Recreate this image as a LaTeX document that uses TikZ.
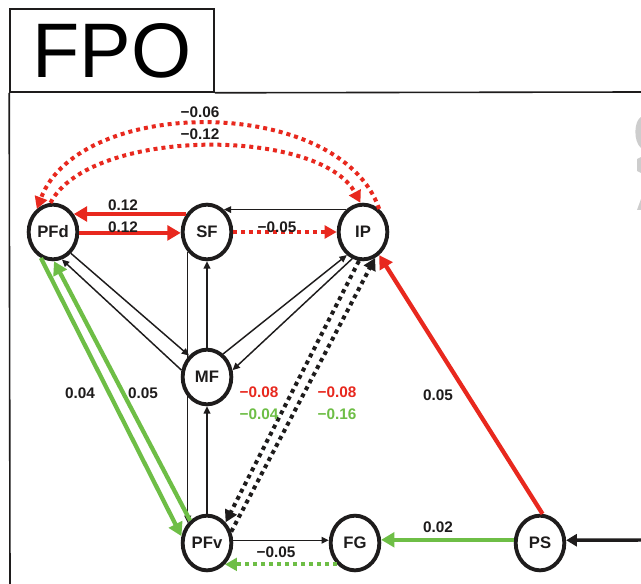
\documentclass[tikz,border=0pt]{standalone}
\usepackage{fontspec}
\setmainfont{Liberation Sans}
\usetikzlibrary{arrows.meta,shapes.geometric}
\definecolor{figred}{RGB}{232,40,30}
\definecolor{figgreen}{RGB}{110,190,70}
\definecolor{figgray}{RGB}{205,205,205}
\definecolor{ink}{RGB}{30,28,28}
\pgfdeclarelayer{back}
\pgfsetlayers{back,main}
\tikzset{
  region/.style={ellipse, draw=ink, line width=2.9pt, fill=white,
    minimum width=36.5pt, minimum height=41pt, inner sep=0pt,
    font=\fontsize{12.5}{14}\selectfont\bfseries, text=ink},
  lbl/.style={font=\fontsize{11.5}{13}\selectfont\bfseries, text=ink, inner sep=0pt},
  redlbl/.style={lbl, text=figred},
  greenlbl/.style={lbl, text=figgreen},
  weak/.style={draw=ink, line width=1.1pt, -{Triangle[length=5.5pt,width=5pt]}},
  redarrow/.style={draw=figred, line width=3.2pt, -{Triangle[length=10pt,width=11pt]}},
  greenarrow/.style={draw=figgreen, line width=3.2pt, -{Triangle[length=10pt,width=11pt]}},
  reddots/.style={draw=figred, line width=3pt, dash pattern=on 3pt off 3pt, -{Triangle[length=9pt,width=9.5pt]}},
  greendots/.style={draw=figgreen, line width=3pt, dash pattern=on 3pt off 3pt, -{Triangle[length=9pt,width=9.5pt]}},
  blackdots/.style={draw=ink, line width=3pt, dash pattern=on 3pt off 3pt, -{Triangle[length=9pt,width=9.5pt]}},
  blackarrow/.style={draw=ink, line width=2.6pt, -{Triangle[length=8pt,width=9pt]}},
  frame/.style={draw=ink, line width=1.2pt}
}
\begin{document}
\begin{tikzpicture}[x=0.75pt,y=-0.75pt]
\useasboundingbox (0,0) rectangle (641,584);
\begin{pgfonlayer}{back}
\fill[white] (0,0) rectangle (641,584);
\end{pgfonlayer}

% frame and FPO box
\node[frame, rectangle, minimum width=153pt, minimum height=62.25pt, inner sep=0pt,
  font=\fontsize{58}{60}\selectfont] (fpo) at (112,50.5) {FPO};
\coordinate (topR) at (641,92);
\coordinate (botL) at (10,584);
\draw[frame] (fpo.south east) -- (topR);
\draw[frame] (fpo.south west) -- (botL);

% gray fragment at the right edge
\fill[figgray] (641,117) .. controls (634,121) and (633,141) .. (641,148) -- cycle;
\fill[figgray] (637,159) -- (641,157) -- (641,173) -- (637,171) -- cycle;
\fill[figgray] (637,210) -- (641,199) -- (641,210) -- cycle;

% nodes
\node[region] (PFd) at (53,232) {PFd};
\node[region] (SF)  at (207,232) {SF};
\node[region] (IP)  at (363,232) {IP};
\node[region] (MF)  at (207,377) {MF};
\node[region] (PFv) at (207,543) {PFv};
\node[region] (FG)  at (355,543) {FG};
\node[region] (PS)  at (540,543) {PS};

% line behind MF
\begin{pgfonlayer}{back}
\draw[weak] (SF.-134) -- (PFv.134);
\end{pgfonlayer}

% top arcs
\draw[reddots] (IP.55) .. controls (340,95) and (80,95) .. (PFd.125);
\draw[reddots] (PFd.95) .. controls (90,127) and (320,127) .. (IP.95);
\node[lbl] (l06) at (200,112) {−0.06};
\node[lbl] (l12a) at (200,134) {−0.12};

% PFd - SF - IP row
\draw[redarrow] (SF.139) -- (PFd.41);
\draw[redarrow] (PFd.-2) -- (SF.182);
\draw[reddots] (SF.east) -- (IP.west);
\draw[weak] (IP.127) -- (SF.53);
\node[lbl] (l12b) at (123,205) {0.12};
\node[lbl] (l12c) at (123,227) {0.12};
\node[lbl] (l05a) at (277,227) {−0.05};

% PFd - MF
\draw[weak] (PFd.-50) -- (MF.130);
\draw[weak] (MF.165) -- (PFd.-72);

% SF - MF - PFv
\draw[weak] (MF.north) -- (SF.south);
\draw[weak] (PFv.north) -- (MF.south);

% MF - IP
\draw[weak] (MF.55) -- (IP.-125);
\draw[weak] (IP.-112) -- (MF.15);

% IP - PFv dotted
\draw[blackdots] (IP.-98) -- (PFv.48);
\draw[blackdots] (PFv.25) -- (IP.-65);
\node[redlbl] (l08a) at (259,392) {−0.08};
\node[greenlbl] (l04a) at (259,414) {−0.04};
\node[redlbl] (l08b) at (337,392) {−0.08};
\node[greenlbl] (l16) at (337,414) {−0.16};

% PFd - PFv green
\draw[greenarrow] (PFd.-115) -- (PFv.165);
\draw[greenarrow] (PFv.127) -- (PFd.-88);
\node[lbl] (l04) at (80,393) {0.04};
\node[lbl] (l05b) at (143,393) {0.05};

% bottom row
\draw[weak] (PFv.6) -- (FG.174);
\draw[greendots] (FG.-130) -- (PFv.-50);
\node[lbl] (l05c) at (276,552) {−0.05};
\draw[greenarrow] (PS.173) -- (FG.7);
\node[lbl] (l02) at (438,527) {0.02};

% PS - IP
\draw[redarrow] (PS.85) -- (IP.-55);
\node[lbl] (l05d) at (438,395) {0.05};

% input to PS
\coordinate (ext) at (641,540);
\draw[blackarrow] (ext) -- (PS.6);
\end{tikzpicture}
\end{document}
